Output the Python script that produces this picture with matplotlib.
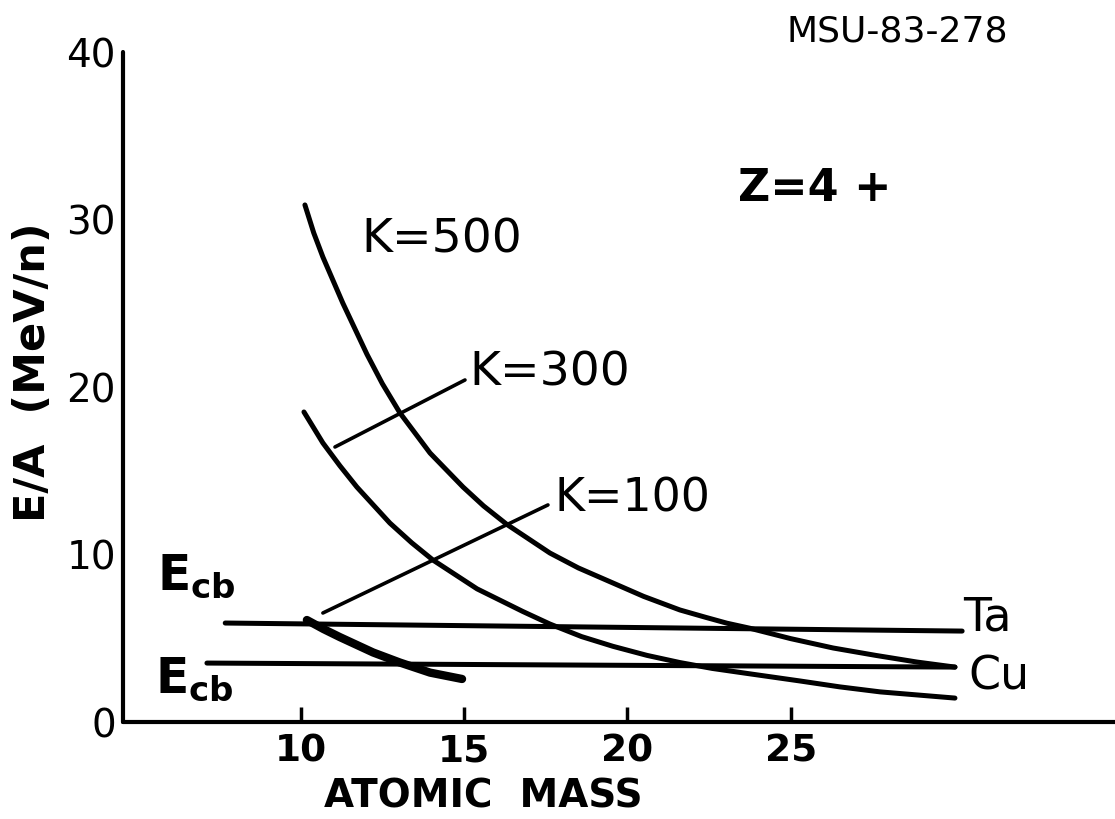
import matplotlib

matplotlib.use("Agg")
import matplotlib.pyplot as plt

# ---- curves (atomic mass, E/A in MeV/n) ----
k500_x = [10.13, 10.40, 10.68, 11.29, 12.03, 12.50, 13.04, 13.96, 14.97, 15.60, 16.31, 17.63, 18.50,
          19.56, 20.50, 21.61, 22.40, 23.05, 23.75, 25.00, 26.30, 27.60, 28.87, 30.03]
k500_y = [30.87, 29.20, 27.76, 25.01, 21.95, 20.20, 18.45, 16.06, 14.03, 12.90, 11.80, 10.09, 9.20,
          8.30, 7.50, 6.69, 6.25, 5.90, 5.60, 4.98, 4.42, 3.98, 3.58, 3.28]

k300_x = [10.10, 10.68, 11.20, 11.72, 12.73, 13.40, 14.05, 15.40, 16.80, 17.63, 18.60, 19.56, 20.60,
          21.61, 22.60, 23.67, 25.29, 26.50, 27.74, 30.03]
k300_y = [18.51, 16.66, 15.30, 14.03, 11.88, 10.70, 9.67, 7.95, 6.60, 5.85, 5.10, 4.52, 3.98,
          3.55, 3.20, 2.90, 2.45, 2.10, 1.80, 1.43]

k100_x = [10.19, 10.70, 11.20, 12.22, 13.04, 13.96, 14.94]
k100_y = [6.09, 5.55, 5.07, 4.15, 3.55, 2.95, 2.57]

# Coulomb barrier lines
ta_x = [7.69, 30.25]
ta_y = [5.91, 5.43]
cu_x = [7.13, 30.03]
cu_y = [3.52, 3.28]

# leader lines from labels to curves
lead300_x = [11.05, 15.03]
lead300_y = [16.42, 20.42]
lead100_x = [10.68, 17.57]
lead100_y = [6.51, 12.96]

xticks = [10, 15, 20, 25]
yticks = [0, 10, 20, 30, 40]

fig = plt.figure(figsize=(11.15, 8.19), dpi=100)
ax = fig.add_axes([0.1103, 0.1184, 0.8897, 0.8181])
ax.set_xlim(4.56, 34.93)
ax.set_ylim(0, 40)

LW = 3.6
kw = dict(color="black", solid_capstyle="round", solid_joinstyle="round")
ax.plot(k500_x, k500_y, lw=LW, **kw)
ax.plot(k300_x, k300_y, lw=LW, **kw)
ax.plot(k100_x, k100_y, lw=6.0, **kw)
ax.plot(ta_x, ta_y, lw=LW, **kw)
ax.plot(cu_x, cu_y, lw=LW, **kw)
ax.plot(lead300_x, lead300_y, lw=2.6, **kw)
ax.plot(lead100_x, lead100_y, lw=2.6, **kw)

# labels on the plot
ax.text(11.87, 28.78, "K=500", fontsize=34, ha="left", va="center")
ax.text(15.15, 20.84, "K=300", fontsize=34, ha="left", va="center")
ax.text(17.78, 13.31, "K=100", fontsize=33, ha="left", va="center")
ax.text(23.39, 31.88, "Z=4 +", fontsize=32, weight="bold", ha="left", va="center")
ax.text(30.28, 6.21, "Ta", fontsize=33, ha="left", va="center")
ax.text(30.44, 2.69, "Cu", fontsize=33, ha="left", va="center")
ax.text(5.60, 7.88, r"$\mathbf{E}_{\mathbf{cb}}$", fontsize=35, ha="left", va="baseline")
ax.text(5.54, 1.73, r"$\mathbf{E}_{\mathbf{cb}}$", fontsize=35, ha="left", va="baseline")
fig.text(787 / 1115, 1 - 32 / 819, "MSU-83-278", fontsize=26, ha="left", va="center")

# axes styling
for s in ["top", "right"]:
    ax.spines[s].set_visible(False)
for s in ["left", "bottom"]:
    ax.spines[s].set_linewidth(3.0)
    ax.spines[s].set_capstyle("round")

ax.set_xticks(xticks)
ax.set_xticklabels([str(t) for t in xticks], fontsize=27, weight="bold")
ax.set_yticks(yticks)
ax.set_yticklabels([str(t) for t in yticks], fontsize=28)
ax.tick_params(axis="x", direction="in", length=11, width=2.5, pad=8)
ax.tick_params(axis="y", length=0, pad=5)

fig.text(483 / 1115, 1 - 797 / 819, "ATOMIC  MASS", fontsize=28, weight="bold", ha="center", va="center")
fig.text(33 / 1115, 1 - 372 / 819, "E/A  (MeV/n)", fontsize=31, weight="bold", rotation=90, ha="center", va="center")

fig.savefig("out.png", dpi=100, facecolor="white")
